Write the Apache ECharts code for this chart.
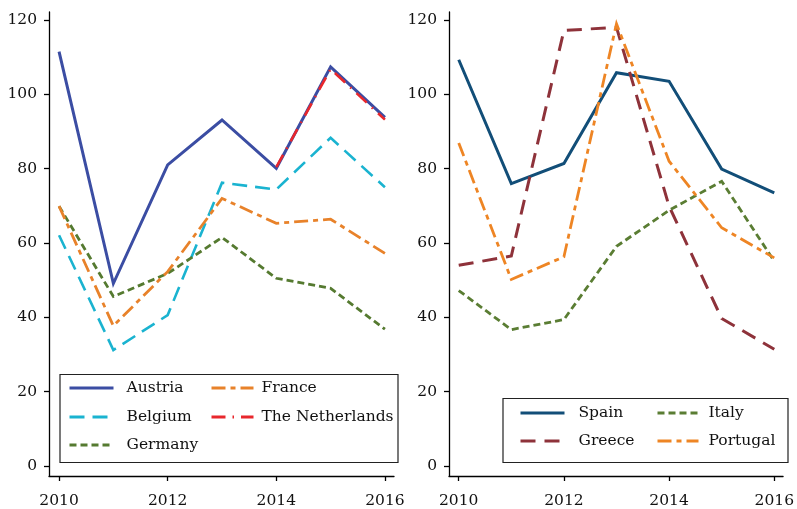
<!DOCTYPE html>
<html>
<head>
<meta charset="utf-8">
<script src="https://cdn.jsdelivr.net/npm/echarts@6/dist/echarts.min.js"></script>
<style>
html,body{margin:0;padding:0;background:#fff;}
#c{width:797px;height:509px;}
</style>
</head>
<body>
<div id="c"></div>
<script>
const years = [2010, 2011, 2012, 2013, 2014, 2015, 2016];
const xTicks = [2010, 2012, 2014, 2016];
const yTicks = [0, 20, 40, 60, 80, 100, 120];

// Left panel
const austria     = [111.5, 49.1, 81.0, 93.1, 80.1, 107.4, 93.8];
const belgium     = [62.1, 31.2, 40.6, 76.2, 74.4, 88.3, 75.0];
const germany     = [69.9, 45.6, 51.8, 61.5, 50.5, 47.8, 36.8];
const france      = [69.9, 37.7, 52.3, 72.0, 65.3, 66.4, 57.2];
const netherlands = [null, null, null, null, 80.4, 106.8, 93.2];

// Right panel
const spain    = [109.3, 76.0, 81.4, 105.8, 103.5, 79.9, 73.5];
const greece   = [54.0, 56.5, 117.2, 118.0, 69.9, 39.7, 31.4];
const italy    = [47.2, 36.7, 39.4, 59.1, 68.8, 76.6, 55.1];
const portugal = [86.9, 50.2, 56.3, 119.0, 82.0, 64.1, 56.0];

const FONT = 'DejaVu Serif';
const toData = arr => years.map((y, i) => [y, arr[i]]);

function mkSeries(name, arr, idx, color, type, width) {
  return {
    name: name, type: 'line', xAxisIndex: idx, yAxisIndex: idx,
    data: toData(arr), symbol: 'none', showSymbol: false,
    lineStyle: {color: color, width: width || 3, type: type, cap: 'butt', join: 'miter'},
    itemStyle: {color: color},
    emphasis: {disabled: true}, animation: false
  };
}

const xMin = 2009.815, xMax = 2016.167, yMin = -2.69, yMax = 122.15;
function xAx(idx) {
  return {
    type: 'value', gridIndex: idx, min: xMin, max: xMax,
    axisLine: {show: true, onZero: false, lineStyle: {color: '#000', width: 1.3}},
    axisTick: {show: true, length: 5, customValues: xTicks, lineStyle: {color: '#000', width: 1.3}},
    axisLabel: {customValues: xTicks, margin: 17, color: '#111', fontFamily: FONT, fontSize: 15.5,
      formatter: v => String(v)},
    splitLine: {show: false}
  };
}
function yAx(idx) {
  return {
    type: 'value', gridIndex: idx, min: yMin, max: yMax,
    axisLine: {show: true, onZero: false, lineStyle: {color: '#000', width: 1.3}},
    axisTick: {show: true, length: 5, customValues: yTicks, lineStyle: {color: '#000', width: 1.3}},
    axisLabel: {customValues: yTicks, margin: 12, color: '#111', fontFamily: FONT, fontSize: 15.5,
      formatter: v => String(v)},
    splitLine: {show: false}
  };
}

function mkLegend(name, x, y, w, gap) {
  return {
    data: [name], left: x, top: y - 9, padding: 0,
    itemWidth: w, itemHeight: 14, selectedMode: false,
    itemStyle: {opacity: 0},
    lineStyle: {width: 3},
    textStyle: {fontFamily: FONT, fontSize: 15.5, color: '#111', padding: [0, 0, 0, gap]}
  };
}

const chart = echarts.init(document.getElementById('c'), null, {renderer: 'canvas'});
chart.setOption({
  animation: false,
  backgroundColor: '#fff',
  grid: [
    {left: 49, top: 12, width: 345, height: 464},
    {left: 449, top: 12, width: 340, height: 464}
  ],
  xAxis: [xAx(0), xAx(1)],
  yAxis: [yAx(0), yAx(1)],
  graphic: [
    {type: 'rect', shape: {x: 60, y: 374.5, width: 338, height: 88}, style: {fill: '#fff', stroke: '#222', lineWidth: 1.2}, z: 0},
    {type: 'rect', shape: {x: 503, y: 398.5, width: 285, height: 64}, style: {fill: '#fff', stroke: '#222', lineWidth: 1.2}, z: 0}
  ],
  legend: [
    mkLegend('Austria', 68, 389, 44, 8),
    mkLegend('France', 210, 389, 42, 3),
    mkLegend('Belgium', 68, 418, 44, 8),
    mkLegend('The Netherlands', 210, 418, 42, 3),
    mkLegend('Germany', 68, 446, 44, 8),
    mkLegend('Spain', 519, 414, 44, 9),
    mkLegend('Italy', 656, 414, 41, 5),
    mkLegend('Greece', 519, 442, 44, 9),
    mkLegend('Portugal', 656, 442, 41, 5)
  ],
  series: [
    mkSeries('Austria', austria, 0, '#3b4da3', 'solid', 3),
    mkSeries('Belgium', belgium, 0, '#1ab3d0', [15, 8], 2.6),
    mkSeries('Germany', germany, 0, '#557a30', [7, 4], 2.8),
    mkSeries('France', france, 0, '#e8822a', [14, 5, 5, 5], 2.8),
    mkSeries('The Netherlands', netherlands, 0, '#e8272c', [14, 7, 1.5, 7], 2.6),
    mkSeries('Spain', spain, 1, '#124e78', 'solid', 3),
    mkSeries('Greece', greece, 1, '#8e323a', [15, 9], 3),
    mkSeries('Italy', italy, 1, '#5a7d33', [7, 4], 2.8),
    mkSeries('Portugal', portugal, 1, '#ee8524', [14, 5, 5, 5], 2.8)
  ]
});
</script>
</body>
</html>
